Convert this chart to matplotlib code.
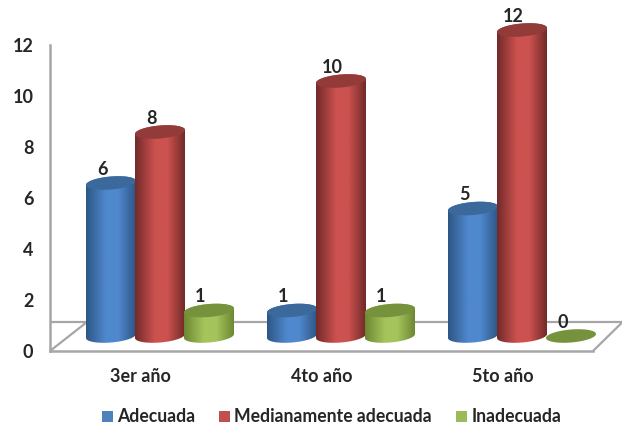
import matplotlib

matplotlib.use("Agg")

import matplotlib.pyplot as plt
import numpy as np
from matplotlib.colors import LinearSegmentedColormap
from matplotlib.patches import Patch, PathPatch, Polygon
from matplotlib.path import Path

plt.rcParams["font.family"] = ["Lato", "DejaVu Sans"]
plt.rcParams["font.size"] = 13
plt.rcParams["font.weight"] = "bold"

years = ["3er año", "4to año", "5to año"]
series_names = ["Adecuada", "Medianamente adecuada", "Inadecuada"]
adecuada = [6, 1, 5]
medianamente = [8, 10, 12]
inadecuada = [1, 1, 0]
yticks = [0, 2, 4, 6, 8, 10, 12]

W, H = 622, 426
LEFT, RIGHT, TOP, BOTTOM = 50, 593, 45, 351
PX_X = (RIGHT - LEFT) / 3  # pixels per category
PX_Y = (BOTTOM - TOP) / 12  # pixels per unit of value

GREY = "#A6A6A6"
TEXT = "#262626"
STYLES = [
    {"edge": "#2D5685", "mid": "#5088CE", "top": "#3B699B", "legend": "#4F81BD"},
    {"edge": "#722A29", "mid": "#CC5250", "top": "#923B39", "legend": "#C0504D"},
    {"edge": "#6C8833", "mid": "#A5C45C", "top": "#76923C", "legend": "#9BBB59"},
]

# depth of the floor and of the cylinder bases, in data units
FLOOR_DX, FLOOR_DY = 37 / PX_X, 29 / PX_Y
BASE_DX, BASE_DY = 19.5 / PX_X, 15 / PX_Y
RADIUS = 25 / PX_X
MINOR = 6.5 / PX_Y
SHEAR = 0.08 * PX_X / PX_Y
SPACING = 49 / PX_X


def ellipse_xy(xc, yc, t):
    dx = RADIUS * np.cos(t)
    return xc + dx, yc + MINOR * np.sin(t) + SHEAR * dx


def draw_cylinder(ax, xc, value, style, z):
    y0 = BASE_DY
    y1 = BASE_DY + value
    cmap = LinearSegmentedColormap.from_list(
        "body",
        [(0, style["edge"]), (0.4, style["mid"]), (0.65, style["mid"]), (1, style["edge"])],
    )
    if value > 0:
        low_x, low_y = ellipse_xy(xc, y0, np.linspace(np.pi, 2 * np.pi, 60))
        up_x, up_y = ellipse_xy(xc, y1, np.linspace(0, np.pi, 60))
        outline = np.column_stack([np.r_[low_x, up_x], np.r_[low_y, up_y]])
        clip = Polygon(outline, closed=True, transform=ax.transData, facecolor="none", edgecolor="none")
        ax.add_patch(clip)
        clip.set_clip_on(False)
        im = ax.imshow(
            np.linspace(0, 1, 128)[None, :],
            cmap=cmap,
            aspect="auto",
            extent=(xc - RADIUS, xc + RADIUS, y0 - 1, y1 + 1),
            interpolation="bilinear",
            zorder=z,
        )
        im.set_clip_box(ax.figure.bbox)
        im.set_clip_path(clip)
    top_x, top_y = ellipse_xy(xc, y1, np.linspace(0, 2 * np.pi, 90))
    ax.add_patch(
        PathPatch(
            Path(np.column_stack([top_x, top_y])),
            facecolor=style["top"],
            edgecolor="none",
            zorder=z + 0.5,
            clip_on=False,
        )
    )
    ax.annotate(
        str(value),
        (xc, y1),
        xytext=(-8.5 * 0.72, 13.5 * 0.72),
        textcoords="offset points",
        ha="center",
        va="center",
        color=TEXT,
        zorder=30,
        annotation_clip=False,
    )


fig = plt.figure(figsize=(W / 100, H / 100), dpi=100, facecolor="white")
ax = fig.add_axes([LEFT / W, 1 - BOTTOM / H, (RIGHT - LEFT) / W, (BOTTOM - TOP) / H])
ax.patch.set_visible(False)

positions = np.arange(len(years)) + 0.5

# floor of the 3D box
floor_kw = dict(color=GREY, lw=1.6, clip_on=False, zorder=1, solid_capstyle="butt")
ax.plot([0, FLOOR_DX], [0, FLOOR_DY], **floor_kw)
ax.plot([3, 3 + FLOOR_DX * 0.8], [0, FLOOR_DY], **floor_kw)
ax.plot([0, 3 + FLOOR_DX * 0.8], [FLOOR_DY, FLOOR_DY], **floor_kw)

for s, values in enumerate([adecuada, medianamente, inadecuada]):
    for pos, value in zip(positions, values):
        draw_cylinder(ax, pos + BASE_DX + (s - 1) * SPACING, value, STYLES[s], 5 + s)

ax.set_xlim(0, 3)
ax.set_ylim(0, 12)
ax.set_xticks(positions, years)
ax.set_yticks(yticks)
ax.tick_params(axis="x", length=0, pad=12.5, labelcolor=TEXT)
ax.tick_params(axis="y", length=0, pad=12, labelcolor=TEXT)
for side in ("top", "right"):
    ax.spines[side].set_visible(False)
for side in ("left", "bottom"):
    ax.spines[side].set_color(GREY)
    ax.spines[side].set_linewidth(1.8)

handles = [Patch(facecolor=st["legend"], edgecolor="none", label=n) for st, n in zip(STYLES, series_names)]
fig.legend(
    handles=handles,
    loc="center",
    bbox_to_anchor=(331.5 / W, 1 - 417 / H),
    ncol=3,
    frameon=False,
    fontsize=12.7,
    handlelength=0.62,
    handleheight=0.62,
    handletextpad=0.25,
    columnspacing=1.35,
    labelcolor=TEXT,
)

fig.savefig("out.png", dpi=100, facecolor="white")
